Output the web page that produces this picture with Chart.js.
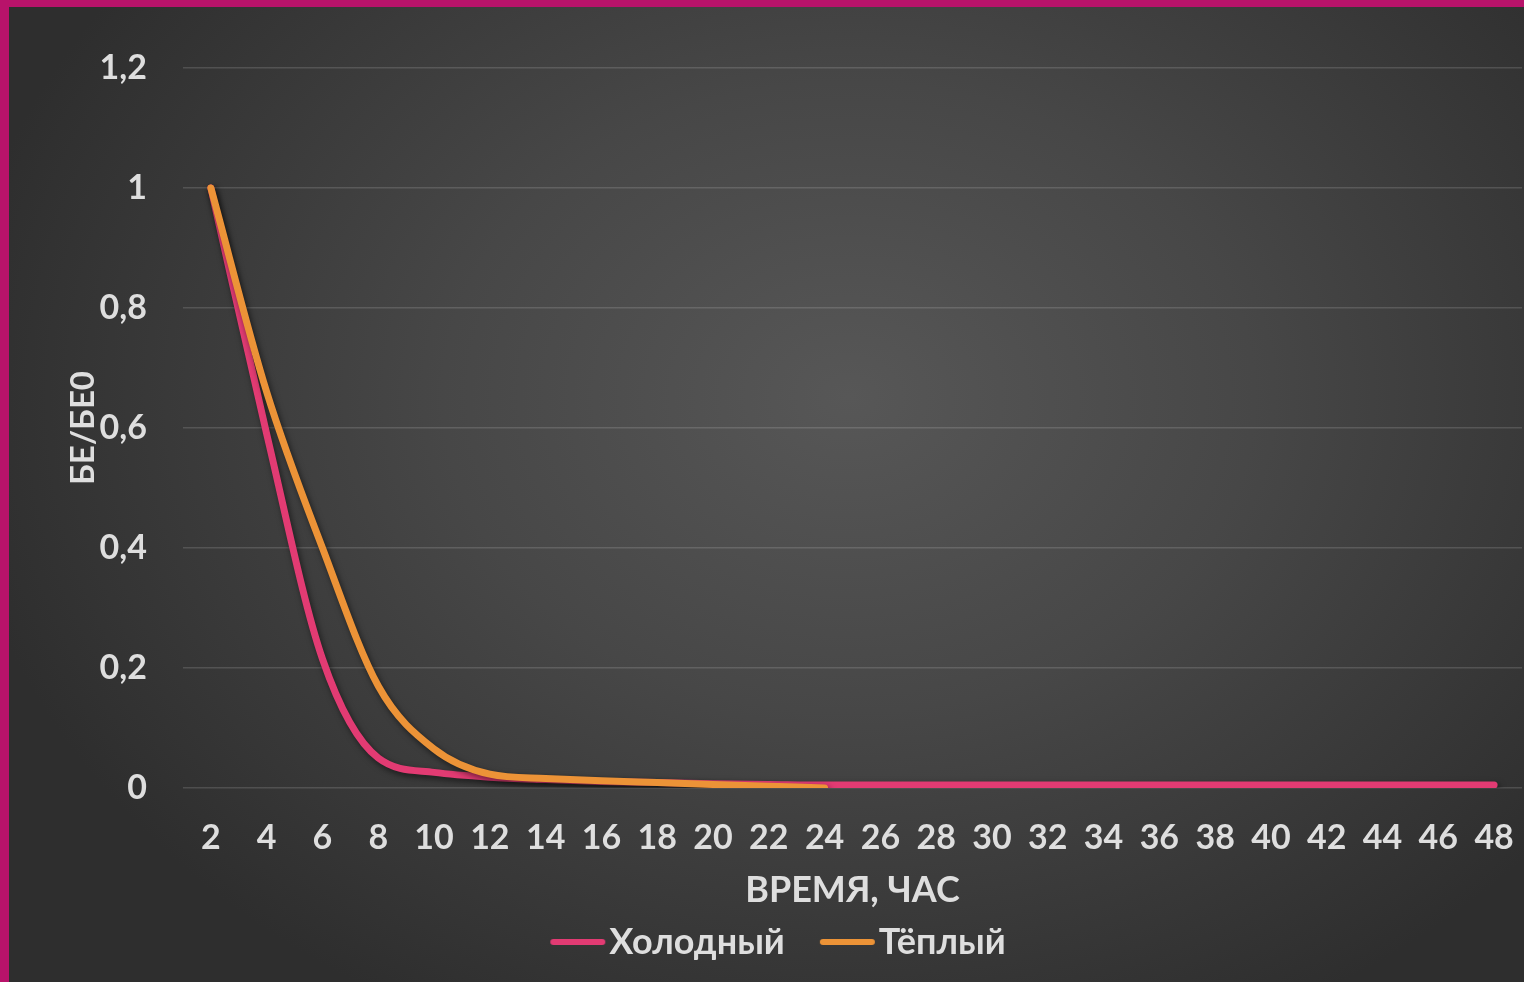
<!DOCTYPE html>
<html>
<head>
<meta charset="utf-8">
<script src="https://cdn.jsdelivr.net/npm/chart.js@4.4.0/dist/chart.umd.min.js"></script>
<style>
  html, body { margin: 0; padding: 0; }
  #wrap {
    position: relative;
    width: 1524px;
    height: 982px;
    box-sizing: border-box;
    border-top: 7px solid #b8136a;
    border-left: 9px solid #b8136a;
    background: radial-gradient(ellipse 900px 700px at 840px 390px, #575757 0%, #474747 45%, #2e2e2e 100%);
    overflow: hidden;
  }
  #chart { position: absolute; left: 0; top: 0; }
</style>
</head>
<body>
<div id="wrap">
  <canvas id="chart" width="1515" height="975"></canvas>
</div>
<script>
// часы
const hours = ['2', '4', '6', '8', '10', '12', '14', '16', '18', '20', '22', '24',
  '26', '28', '30', '32', '34', '36', '38', '40', '42', '44', '46', '48'];

// БЕ/БЕ0, холодный режим
const coldValues = [1, 0.59, 0.215, 0.05, 0.026, 0.018, 0.014, 0.011, 0.009, 0.007, 0.006, 0.005,
  0.005, 0.005, 0.005, 0.005, 0.005, 0.005, 0.005, 0.005, 0.005, 0.005, 0.005, 0.005];

// БЕ/БЕ0, тёплый режим (до 24 ч)
const warmValues = [1, 0.66, 0.40, 0.17, 0.065, 0.023, 0.016, 0.012, 0.009, 0.006, 0.003, 0.0];

const yTicks = [0, 0.2, 0.4, 0.6, 0.8, 1, 1.2];

const coldColor = '#e23b73';
const warmColor = '#ec9337';
const textColor = '#dedede';
const fontFamily = 'Lato, "DejaVu Sans", sans-serif';

// значок легенды: короткая линия, придвинутая к тексту
function legendLine(color) {
    const c = document.createElement('canvas');
    c.width = 104;
    c.height = 12;
    const g = c.getContext('2d');
    g.strokeStyle = color;
    g.lineWidth = 6;
    g.lineCap = 'round';
    g.beginPath();
    g.moveTo(47, 6);
    g.lineTo(96, 6);
    g.stroke();
    return c;
}
const legendIcons = [legendLine(coldColor), legendLine(warmColor)];

// тень под линиями
const lineShadow = {
    id: 'lineShadow',
    beforeDatasetDraw(chart) {
        const ctx = chart.ctx;
        ctx.save();
        ctx.shadowColor = 'rgba(0,0,0,0.55)';
        ctx.shadowBlur = 6;
        ctx.shadowOffsetX = 2;
        ctx.shadowOffsetY = 3;
    },
    afterDatasetDraw(chart) {
        chart.ctx.restore();
    }
};

const chart = new Chart(document.getElementById('chart'), {
    type: 'line',
    data: {
        labels: hours,
        datasets: [{
            label: 'Холодный',
            data: coldValues,
            order: 1,
            borderColor: coldColor,
            backgroundColor: coldColor,
            borderWidth: 7,
            borderCapStyle: 'round',
            pointRadius: 0,
            cubicInterpolationMode: 'monotone'
        }, {
            label: 'Тёплый',
            data: warmValues,
            order: 0,
            borderColor: warmColor,
            backgroundColor: warmColor,
            borderWidth: 7,
            borderCapStyle: 'round',
            pointRadius: 0,
            cubicInterpolationMode: 'monotone'
        }]
    },
    options: {
        responsive: false,
        animation: false,
        layout: { padding: { top: 61, right: 2, left: 0, bottom: 12 } },
        plugins: {
            legend: {
                position: 'bottom',
                labels: {
                    color: textColor,
                    font: { family: fontFamily, size: 36, weight: 'bold' },
                    usePointStyle: true,
                    pointStyleWidth: 66,
                    boxHeight: 12,
                    padding: 10,
                    sort: (a, b) => a.datasetIndex - b.datasetIndex,
                    generateLabels(chart) {
                        const items = Chart.defaults.plugins.legend.labels.generateLabels(chart);
                        items.forEach(it => { it.pointStyle = legendIcons[it.datasetIndex]; });
                        return items;
                    }
                }
            },
            tooltip: { enabled: false }
        },
        scales: {
            x: {
                offset: true,
                grid: { display: false, drawTicks: false },
                border: { display: false },
                ticks: {
                    color: textColor,
                    autoSkip: false,
                    maxRotation: 0,
                    padding: 30,
                    font: { family: fontFamily, size: 34, weight: 'bold' }
                },
                title: {
                    display: true,
                    text: 'ВРЕМЯ, ЧАС',
                    color: textColor,
                    padding: { top: 0, bottom: 2 },
                    font: { family: fontFamily, size: 36, weight: 'bold' }
                },
                afterFit(scale) {
                    scale.height = 126;
                    scale.paddingLeft = 0;
                    scale.paddingRight = 0;
                }
            },
            y: {
                min: 0,
                max: 1.2,
                afterBuildTicks(scale) { scale.ticks = yTicks.map(v => ({ value: v })); },
                grid: { color: 'rgba(255,255,255,0.14)', lineWidth: 1.5, drawTicks: false },
                border: { display: false },
                ticks: {
                    color: textColor,
                    padding: 36,
                    font: { family: fontFamily, size: 34, weight: 'bold' },
                    callback: v => String(Number(v.toFixed(1))).replace('.', ',')
                },
                title: {
                    display: true,
                    text: 'БЕ/БЕ0',
                    color: textColor,
                    padding: { top: 55, bottom: 0 },
                    font: { family: fontFamily, size: 33, weight: 'bold' }
                },
                afterFit(scale) { scale.width = 174; }
            }
        }
    },
    plugins: [lineShadow]
});
</script>
</body>
</html>
